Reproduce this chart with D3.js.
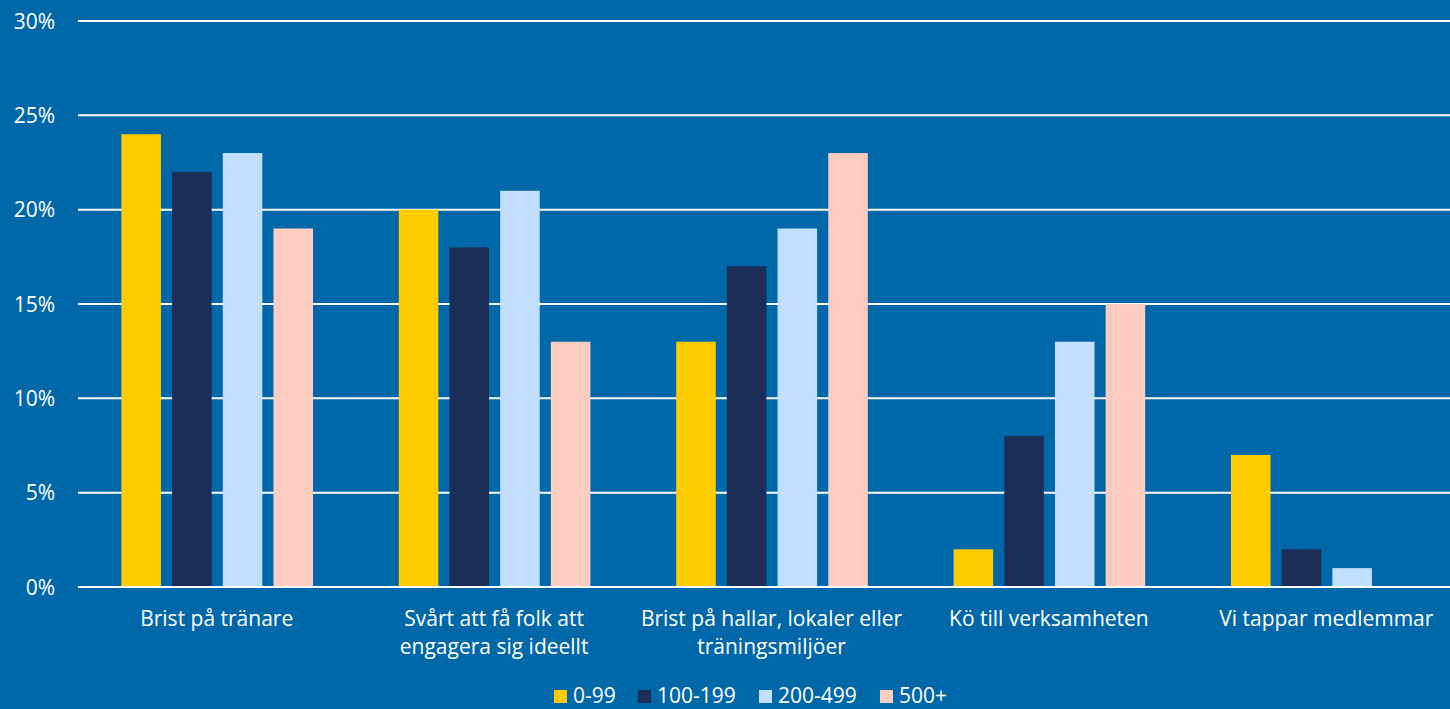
<!DOCTYPE html>
<html><head><meta charset="utf-8">
<script src="https://cdn.jsdelivr.net/npm/d3@7"></script>
<style>body{margin:0;background:#0068A8;overflow:hidden}svg{display:block}</style>
</head><body>
<script>
const categories = [["Brist på tränare"],["Svårt att få folk att","engagera sig ideellt"],["Brist på hallar, lokaler eller","träningsmiljöer"],["Kö till verksamheten"],["Vi tappar medlemmar"]];
const seriesNames = ["0-99","100-199","200-499","500+"];
const s0_99 = [24,20,13,2,7];
const s100_199 = [22,18,17,8,2];
const s200_499 = [23,21,19,13,1];
const s500 = [19,13,23,15,0];
const seriesValues = [s0_99,s100_199,s200_499,s500];
const colors = ["#FFCC00","#1C2E57","#C2DFFD","#FDCCC0"];
const yTicks = [0,5,10,15,20,25,30];

const W=1450,H=709;
const svg=d3.select("body").append("svg").attr("width",W).attr("height",H);
svg.append("rect").attr("width",W).attr("height",H).attr("fill","#0068A8");
const font="'Open Sans', sans-serif";
const fs=21;
const y=d3.scaleLinear().domain([0,30]).range([587,21]);
const x0=d3.scaleBand().domain(d3.range(categories.length)).range([78,1465]).paddingInner(0).paddingOuter(0);
const gw=191.6;
const x1=d3.scaleBand().domain(d3.range(seriesNames.length)).range([0,gw]).paddingInner(0.22).paddingOuter(0);
const groupOff=(x0.bandwidth()-gw)/2+0.5;

svg.append("g").selectAll("line").data(yTicks).join("line")
 .attr("x1",78).attr("x2",W).attr("y1",d=>y(d)).attr("y2",d=>y(d))
 .attr("stroke","#fff").attr("stroke-width",2);
svg.append("g").selectAll("text").data(yTicks).join("text")
 .attr("x",55).attr("y",d=>y(d)+7.5).attr("text-anchor","end")
 .attr("fill","#fff").attr("font-family",font).attr("font-size",fs).text(d=>d+"%");

const g=svg.append("g");
categories.forEach((c,i)=>{
  seriesValues.forEach((vals,j)=>{
    if(vals[i]<=0) return;
    g.append("rect").attr("x",x0(i)+groupOff+x1(j)).attr("width",x1.bandwidth())
     .attr("y",y(vals[i])).attr("height",y(0)-y(vals[i])-1).attr("fill",colors[j]);
  });
  const t=svg.append("text").attr("text-anchor","middle").attr("fill","#fff")
   .attr("font-family",font).attr("font-size",fs);
  c.forEach((line,k)=>t.append("tspan").attr("x",x0(i)+x0.bandwidth()/2).attr("y",626+k*28).text(line));
});

// legend
const leg=svg.append("g");
const legX=[554,638,759,880];
seriesNames.forEach((n,j)=>{
  leg.append("rect").attr("x",legX[j]).attr("y",690).attr("width",13).attr("height",13).attr("fill",colors[j]);
  leg.append("text").attr("x",legX[j]+19).attr("y",703).attr("fill","#fff")
   .attr("font-family",font).attr("font-size",fs).text(n);
});
</script>
</body></html>
